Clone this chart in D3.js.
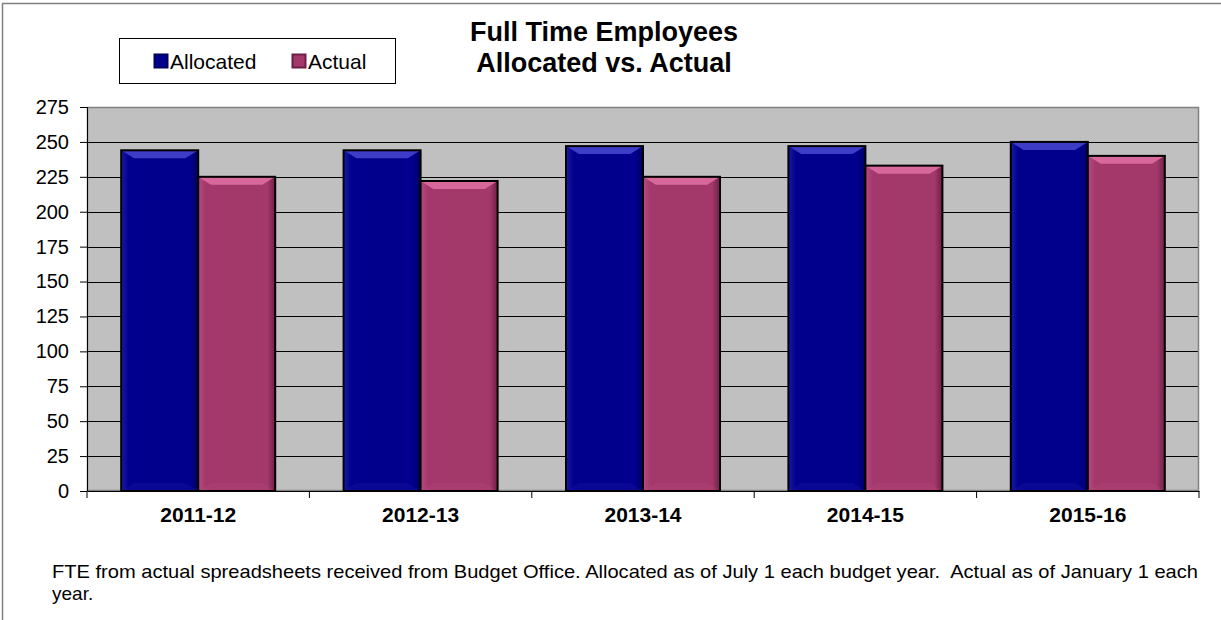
<!DOCTYPE html>
<html>
<head>
<meta charset="utf-8">
<script src="https://cdn.jsdelivr.net/npm/d3@7"></script>
<style>
  html, body { margin: 0; padding: 0; background: #fff; }
  svg { display: block; }
  text { font-family: "Liberation Sans", Arial, sans-serif; white-space: pre; }
</style>
</head>
<body>
<svg id="chart" width="1221" height="620"></svg>
<script>
// FTE counts per budget year
const years = ["2011-12", "2012-13", "2013-14", "2014-15", "2015-16"];
const allocated = [244, 244, 247, 247, 250];
const actual = [225, 222, 225, 233, 240];
const seriesNames = ["Allocated", "Actual"];
const yTicks = [0, 25, 50, 75, 100, 125, 150, 175, 200, 225, 250, 275];
const titleLines = ["Full Time Employees", "Allocated vs. Actual"];
const footnoteLines = [
  "FTE from actual spreadsheets received from Budget Office. Allocated as of July 1 each budget year.  Actual as of January 1 each",
  "year."
];

const W = 1221, H = 620;
const plot = { left: 87, right: 1199, top: 107, bottom: 491 };

const svg = d3.select("#chart");

// palette: body, top bevel, left highlight, right shade
const pal = {
  Allocated: { body: "#00008c", top: "#3c3cc6", hi: "#1a1aa8", side: "#000060" },
  Actual:    { body: "#a3386b", top: "#d8689c", hi: "#b84a80", side: "#6e1f48" }
};

// chart frame (left and top edges)
svg.append("path")
  .attr("d", `M2.5,${H} V3.5 H${W}`)
  .attr("fill", "none").attr("stroke", "#808080").attr("stroke-width", 1.5);

const x0 = d3.scaleBand().domain(years).range([plot.left, plot.right]).paddingInner(0).paddingOuter(0);
const x1 = d3.scaleBand().domain(seriesNames).range([0, x0.bandwidth()]).paddingInner(0).paddingOuter(0.444);
const y = d3.scaleLinear().domain([0, 275]).range([plot.bottom, plot.top]);

// plot area background
svg.append("rect")
  .attr("x", plot.left).attr("y", plot.top)
  .attr("width", plot.right - plot.left).attr("height", plot.bottom - plot.top)
  .attr("fill", "#c0c0c0");

// gridlines
svg.append("g").selectAll("line").data(yTicks.filter(d => d > 0 && d < 275)).join("line")
  .attr("x1", plot.left).attr("x2", plot.right)
  .attr("y1", d => Math.round(y(d)) + 0.5).attr("y2", d => Math.round(y(d)) + 0.5)
  .attr("stroke", "#000").attr("stroke-width", 1);

// plot border
svg.append("rect")
  .attr("x", plot.left + 0.5).attr("y", plot.top + 0.5)
  .attr("width", plot.right - plot.left - 1).attr("height", plot.bottom - plot.top - 1)
  .attr("fill", "none").attr("stroke", "#808080").attr("stroke-width", 1.5);

// bars
const rows = years.map((yr, i) => ({ year: yr, values: [
  { key: "Allocated", value: allocated[i] },
  { key: "Actual", value: actual[i] }
]}));

const defs = svg.append("defs");
seriesNames.forEach(k => {
  const g = defs.append("linearGradient").attr("id", "side-" + k).attr("x1", 0).attr("x2", 1).attr("y1", 0).attr("y2", 0);
  g.append("stop").attr("offset", 0).attr("stop-color", pal[k].hi);
  g.append("stop").attr("offset", 0.1).attr("stop-color", pal[k].body);
  g.append("stop").attr("offset", 0.9).attr("stop-color", pal[k].body);
  g.append("stop").attr("offset", 1).attr("stop-color", pal[k].side);
});

const groups = svg.append("g").selectAll("g").data(rows).join("g")
  .attr("transform", d => `translate(${x0(d.year)},0)`);

const bars = groups.selectAll("g.bar").data(d => d.values).join("g").attr("class", "bar");

bars.each(function(d) {
  const g = d3.select(this);
  const bx = x1(d.key), bw = x1.bandwidth();
  const by = y(d.value), bh = plot.bottom - by;
  const b = 8; // bevel depth
  const c = pal[d.key];
  // body
  g.append("rect").attr("x", bx).attr("y", by).attr("width", bw).attr("height", bh)
    .attr("fill", `url(#side-${d.key})`);
  // top bevel
  g.append("path")
    .attr("d", `M${bx},${by} H${bx + bw} L${bx + bw - b * 1.6},${by + b} H${bx + b * 1.6} Z`)
    .attr("fill", c.top);
  // bottom bevel
  g.append("path")
    .attr("d", `M${bx},${plot.bottom} H${bx + bw} L${bx + bw - b * 1.6},${plot.bottom - b} H${bx + b * 1.6} Z`)
    .attr("fill", c.hi).attr("opacity", 0.3);
  // outline
  g.append("rect").attr("x", bx).attr("y", by).attr("width", bw).attr("height", bh)
    .attr("fill", "none").attr("stroke", "#000").attr("stroke-width", 2);
});

// y axis
const yAxis = svg.append("g")
  .attr("transform", `translate(${plot.left},0)`)
  .call(d3.axisLeft(y).tickValues(yTicks).tickSize(7).tickPadding(11));
yAxis.select(".domain").attr("stroke", "#000").attr("d", `M0.5,${plot.top}V${plot.bottom}`);
yAxis.selectAll(".tick line").attr("stroke", "#000");
yAxis.selectAll("text").attr("font-size", 20).attr("fill", "#000")
  .attr("font-family", "'Liberation Sans', Arial, sans-serif");

// x axis
const xAxis = svg.append("g")
  .attr("transform", `translate(0,${plot.bottom})`)
  .call(d3.axisBottom(x0).tickSize(0).tickPadding(16));
xAxis.select(".domain").attr("stroke", "#000");
xAxis.selectAll("text").attr("font-size", 21).attr("font-weight", "bold").attr("fill", "#000")
  .attr("font-family", "'Liberation Sans', Arial, sans-serif");
// category separators
svg.append("g").selectAll("line").data(d3.range(years.length + 1)).join("line")
  .attr("x1", i => plot.left + i * x0.step()).attr("x2", i => plot.left + i * x0.step())
  .attr("y1", plot.bottom).attr("y2", plot.bottom + 7)
  .attr("stroke", "#000");

// title
svg.append("g").selectAll("text").data(titleLines).join("text")
  .attr("x", 604).attr("y", (d, i) => 41 + i * 31)
  .attr("text-anchor", "middle").attr("font-size", 27).attr("font-weight", "bold")
  .text(d => d);

// legend
const lg = svg.append("g");
lg.append("rect").attr("x", 119.5).attr("y", 38.5).attr("width", 276).attr("height", 45)
  .attr("fill", "#fff").attr("stroke", "#000");
const legendX = [154, 292];
seriesNames.forEach((k, i) => {
  const it = lg.append("g").attr("transform", `translate(${legendX[i]},61)`);
  it.append("rect").attr("x", 0.5).attr("y", -6.5).attr("width", 13).attr("height", 13)
    .attr("fill", pal[k].body).attr("stroke", pal[k].side).attr("stroke-width", 2);
  it.append("text").attr("x", 16).attr("y", 7.5).attr("font-size", 21).text(k);
});

// footnote
svg.append("g").selectAll("text").data(footnoteLines).join("text")
  .attr("x", 52).attr("y", (d, i) => 578 + i * 22)
  .attr("font-size", 19)
  .each(function(d, i) {
    if (i === 0) d3.select(this).attr("textLength", 1146).attr("lengthAdjust", "spacingAndGlyphs");
  })
  .text(d => d);
</script>
</body>
</html>
